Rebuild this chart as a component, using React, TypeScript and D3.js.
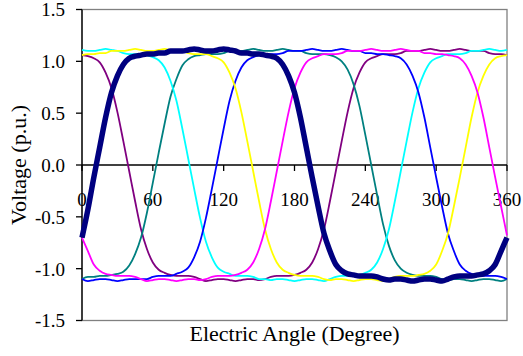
import * as d3 from "d3";

// electric angle samples, every 5 degrees
const angles = d3.range(0, 361, 5);

const xTicks = [0, 60, 120, 180, 240, 300, 360];
const yTicks = [1.5, 1.0, 0.5, 0.0, -0.5, -1.0, -1.5];

// phase voltages (p.u.)
const phaseNavy = [
  -0.70, -0.43, -0.12, 0.17, 0.46, 0.70, 0.86, 0.97, 1.03, 1.05,
  1.06, 1.07, 1.07, 1.08, 1.08, 1.10, 1.10, 1.10, 1.11, 1.12,
  1.11, 1.10, 1.10, 1.11, 1.12, 1.11, 1.10, 1.08, 1.08, 1.07,
  1.07, 1.06, 1.05, 1.03, 0.97, 0.86, 0.70, 0.46, 0.17, -0.12,
  -0.40, -0.66, -0.83, -0.96, -1.02, -1.05, -1.06, -1.07, -1.07, -1.07,
  -1.08, -1.10, -1.11, -1.10, -1.10, -1.11, -1.12, -1.11, -1.10, -1.10,
  -1.11, -1.12, -1.10, -1.08, -1.07, -1.07, -1.07, -1.06, -1.05, -1.02,
  -0.96, -0.83, -0.70,
];
const phasePurple = [
  1.06, 1.05, 1.03, 0.99, 0.89, 0.74, 0.51, 0.23, -0.06, -0.35,
  -0.62, -0.81, -0.94, -1.01, -1.04, -1.06, -1.07, -1.07, -1.07, -1.08,
  -1.10, -1.12, -1.11, -1.10, -1.10, -1.11, -1.12, -1.11, -1.10, -1.10,
  -1.11, -1.10, -1.08, -1.07, -1.07, -1.07, -1.06, -1.04, -1.01, -0.94,
  -0.81, -0.62, -0.35, -0.06, 0.23, 0.51, 0.74, 0.89, 0.99, 1.03,
  1.05, 1.07, 1.07, 1.07, 1.08, 1.10, 1.10, 1.10, 1.11, 1.12,
  1.11, 1.10, 1.10, 1.11, 1.12, 1.11, 1.10, 1.10, 1.10, 1.08,
  1.07, 1.07, 1.06,
];
const phaseTeal = [
  -1.10, -1.08, -1.08, -1.07, -1.07, -1.06, -1.05, -1.03, -0.97, -0.86,
  -0.70, -0.46, -0.17, 0.12, 0.40, 0.66, 0.83, 0.96, 1.02, 1.05,
  1.06, 1.07, 1.07, 1.07, 1.08, 1.10, 1.10, 1.10, 1.11, 1.12,
  1.11, 1.10, 1.10, 1.11, 1.12, 1.11, 1.10, 1.10, 1.08, 1.07,
  1.07, 1.07, 1.06, 1.04, 1.00, 0.92, 0.78, 0.57, 0.29, 0.00,
  -0.29, -0.57, -0.78, -0.92, -1.00, -1.04, -1.06, -1.07, -1.07, -1.07,
  -1.08, -1.10, -1.11, -1.10, -1.10, -1.11, -1.12, -1.11, -1.10, -1.10,
  -1.11, -1.12, -1.10,
];
const phaseCyan = [
  1.11, 1.10, 1.10, 1.11, 1.12, 1.11, 1.10, 1.08, 1.07, 1.07,
  1.07, 1.06, 1.04, 1.01, 0.94, 0.81, 0.62, 0.35, 0.06, -0.23,
  -0.51, -0.74, -0.89, -0.99, -1.03, -1.05, -1.07, -1.07, -1.07, -1.08,
  -1.10, -1.10, -1.11, -1.10, -1.10, -1.11, -1.12, -1.11, -1.10, -1.10,
  -1.11, -1.12, -1.10, -1.08, -1.07, -1.07, -1.07, -1.06, -1.04, -1.01,
  -0.94, -0.81, -0.62, -0.35, -0.06, 0.23, 0.51, 0.74, 0.89, 0.99,
  1.03, 1.05, 1.07, 1.07, 1.07, 1.08, 1.10, 1.10, 1.11, 1.12,
  1.11, 1.10, 1.11,
];
const phaseBlue = [
  -1.10, -1.12, -1.11, -1.10, -1.10, -1.11, -1.12, -1.11, -1.10, -1.10,
  -1.10, -1.10, -1.08, -1.07, -1.07, -1.07, -1.05, -1.03, -0.99, -0.89,
  -0.74, -0.51, -0.23, 0.06, 0.35, 0.62, 0.81, 0.94, 1.01, 1.04,
  1.06, 1.07, 1.07, 1.07, 1.08, 1.10, 1.10, 1.10, 1.11, 1.12,
  1.11, 1.10, 1.10, 1.11, 1.12, 1.11, 1.10, 1.10, 1.08, 1.08,
  1.07, 1.07, 1.06, 1.05, 1.03, 0.97, 0.86, 0.70, 0.46, 0.17,
  -0.12, -0.40, -0.66, -0.83, -0.96, -1.02, -1.05, -1.06, -1.07, -1.07,
  -1.07, -1.08, -1.10,
];
const phaseYellow = [
  1.06, 1.07, 1.07, 1.08, 1.08, 1.10, 1.10, 1.10, 1.11, 1.12,
  1.11, 1.10, 1.10, 1.11, 1.12, 1.11, 1.10, 1.10, 1.08, 1.07,
  1.07, 1.07, 1.05, 1.03, 0.99, 0.89, 0.74, 0.51, 0.23, -0.06,
  -0.35, -0.62, -0.81, -0.94, -1.01, -1.04, -1.06, -1.07, -1.07, -1.07,
  -1.08, -1.10, -1.11, -1.10, -1.10, -1.11, -1.12, -1.11, -1.10, -1.10,
  -1.11, -1.12, -1.10, -1.08, -1.07, -1.07, -1.07, -1.06, -1.05, -1.02,
  -0.96, -0.83, -0.66, -0.40, -0.12, 0.17, 0.46, 0.70, 0.86, 0.97,
  1.03, 1.05, 1.06,
];
const phaseMagenta = [
  -0.70, -0.83, -0.96, -1.02, -1.05, -1.06, -1.07, -1.07, -1.07, -1.08,
  -1.10, -1.12, -1.11, -1.10, -1.10, -1.11, -1.12, -1.11, -1.10, -1.10,
  -1.11, -1.10, -1.08, -1.07, -1.07, -1.07, -1.06, -1.04, -1.01, -0.94,
  -0.81, -0.62, -0.35, -0.06, 0.23, 0.51, 0.74, 0.89, 0.99, 1.03,
  1.05, 1.07, 1.07, 1.07, 1.08, 1.10, 1.10, 1.10, 1.11, 1.12,
  1.11, 1.10, 1.10, 1.11, 1.12, 1.11, 1.10, 1.10, 1.08, 1.08,
  1.07, 1.07, 1.06, 1.05, 1.03, 0.97, 0.86, 0.70, 0.46, 0.17,
  -0.12, -0.40, -0.68,
];

// drawing order: thick navy phase last so it sits on top
const series = [
  { values: phasePurple, color: "#800080", width: 1.8 },
  { values: phaseTeal, color: "#008080", width: 1.8 },
  { values: phaseCyan, color: "#00ffff", width: 1.8 },
  { values: phaseBlue, color: "#0000ff", width: 1.8 },
  { values: phaseYellow, color: "#ffff00", width: 1.8 },
  { values: phaseMagenta, color: "#ff00ff", width: 1.8 },
  { values: phaseNavy, color: "#000080", width: 5.5 },
];

const W = 523;
const H = 356;
const SERIF = '"Liberation Serif", Tinos, "Times New Roman", "DejaVu Serif", serif';
const tickTxt = { fontFamily: SERIF, fontSize: 19, fill: "#000" };
const titleTxt = { fontFamily: SERIF, fontSize: 22, fill: "#000" };

export default function App() {
  const x = d3.scaleLinear().domain([0, 360]).range([82, 507]);
  const y = d3.scaleLinear().domain([-1.5, 1.5]).range([320.5, 9.5]);
  const [x0, x1] = x.range();
  const [yBottom, yTop] = y.range();

  const line = d3
    .line<number>()
    .x((_, i) => x(angles[i]))
    .y((d) => y(d))
    .curve(d3.curveMonotoneX);

  return (
    <svg
      width={W}
      height={H}
      style={{ position: "absolute", left: 0, top: 0, background: "#fff" }}
    >
      {/* plot frame */}
      <rect x={x0} y={yTop} width={x1 - x0} height={yBottom - yTop} fill="none" stroke="#808080" strokeWidth={1.3} />
      <line x1={x0} x2={x0} y1={yTop} y2={yBottom} stroke="#000" strokeWidth={1.3} />

      {/* y ticks + labels */}
      {yTicks.map((t) => (
        <g key={"y" + t}>
          <line x1={x0 - 6} x2={x0} y1={y(t)} y2={y(t)} stroke="#000" strokeWidth={1.3} />
          <text x={x0 - 17} y={y(t)} dy="0.36em" textAnchor="end" style={tickTxt}>
            {t.toFixed(1)}
          </text>
        </g>
      ))}

      {/* x axis at zero */}
      <line x1={x0} x2={x1} y1={y(0)} y2={y(0)} stroke="#000" strokeWidth={1.3} />
      {xTicks.map((t) => (
        <g key={"x" + t}>
          <line x1={x(t)} x2={x(t)} y1={y(0)} y2={y(0) + 6} stroke="#000" strokeWidth={1.3} />
          <text x={x(t)} y={y(0) + 41} textAnchor="middle" style={tickTxt}>
            {t}
          </text>
        </g>
      ))}

      {/* phase voltages */}
      {series.map((s, i) => (
        <path
          key={i}
          d={line(s.values) ?? ""}
          fill="none"
          stroke={s.color}
          strokeWidth={s.width}
          strokeLinejoin="round"
        />
      ))}

      {/* axis titles */}
      <text x={(x0 + x1) / 2} y={341} textAnchor="middle" style={titleTxt}>
        Electric Angle (Degree)
      </text>
      <text
        transform={`translate(26, ${(yTop + yBottom) / 2}) rotate(-90)`}
        textAnchor="middle"
        style={titleTxt}
      >
        Voltage (p.u.)
      </text>
    </svg>
  );
}
